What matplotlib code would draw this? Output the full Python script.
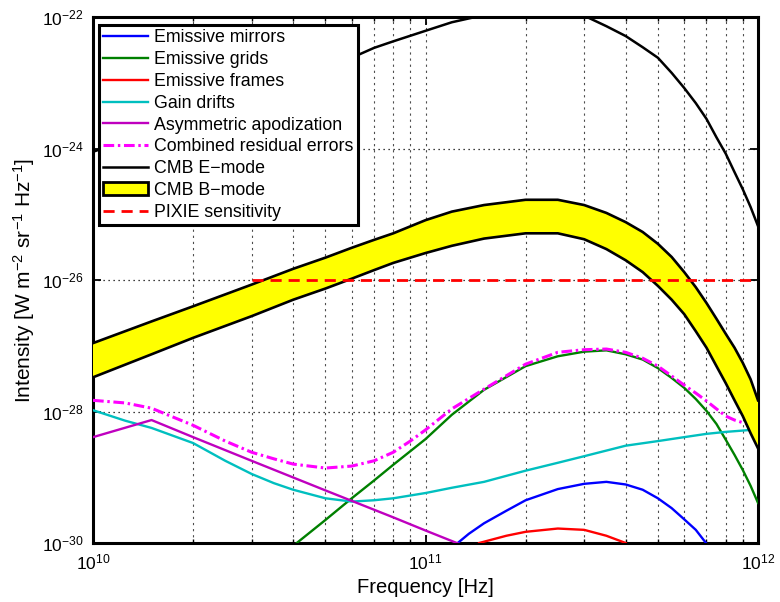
import numpy as np
import matplotlib.pyplot as plt
from matplotlib.patches import Patch
from matplotlib.ticker import LogLocator, NullLocator, NullFormatter

plt.rcParams['font.family'] = ['Liberation Sans', 'DejaVu Sans']
plt.rcParams['mathtext.default'] = 'regular'

# all intensities below are log10 of W m^-2 sr^-1 Hz^-1

# CMB polarization
freq_cmb = [1e10, 1.5e10, 2e10, 3e10, 4e10, 5e10, 6e10, 7e10, 8e10, 1e11, 1.2e11, 1.5e11,
            2e11, 2.5e11, 3e11, 3.5e11, 4e11, 4.5e11, 5e11, 5.5e11, 6e11, 6.5e11, 7e11,
            7.5e11, 8e11, 8.5e11, 9e11, 9.5e11, 1e12]
bmode_hi = [-26.96, -26.63, -26.40, -26.07, -25.83, -25.66, -25.51, -25.39, -25.29, -25.09,
            -24.96, -24.86, -24.78, -24.78, -24.86, -24.98, -25.12, -25.27, -25.45, -25.65,
            -25.88, -26.11, -26.35, -26.59, -26.82, -27.03, -27.26, -27.51, -27.83]
bmode_lo = [-27.48, -27.13, -26.88, -26.55, -26.30, -26.13, -25.98, -25.85, -25.74, -25.59,
            -25.48, -25.37, -25.29, -25.29, -25.38, -25.53, -25.70, -25.88, -26.09, -26.30,
            -26.52, -26.78, -27.03, -27.31, -27.57, -27.83, -28.07, -28.33, -28.56]
emode = [-24.05, -23.74, -23.51, -23.18, -22.94, -22.77, -22.62, -22.47, -22.37, -22.21,
         -22.08, -21.97, -21.89, -21.88, -21.98, -22.14, -22.29, -22.46, -22.62, -22.85,
         -23.08, -23.31, -23.55, -23.83, -24.08, -24.36, -24.62, -24.89, -25.18]

# systematic error terms
freq_mirror = [1.25e11, 1.35e11, 1.5e11, 1.75e11, 2e11, 2.5e11, 3e11, 3.5e11, 4e11, 4.5e11,
               5e11, 5.5e11, 6e11, 6.5e11, 7e11]
mirror = [-30.00, -29.86, -29.70, -29.51, -29.35, -29.18, -29.10, -29.07, -29.11, -29.19,
          -29.32, -29.47, -29.64, -29.80, -30.01]

freq_grid = [4.1e10, 5e10, 6e10, 7e10, 8e10, 1e11, 1.2e11, 1.5e11, 2e11, 2.5e11, 3e11,
             3.5e11, 4e11, 4.5e11, 5e11, 5.5e11, 6e11, 6.5e11, 7e11, 7.5e11, 8e11, 8.5e11,
             9e11, 9.5e11, 1e12]
grid = [-30.00, -29.65, -29.32, -29.05, -28.81, -28.42, -28.05, -27.67, -27.31, -27.16,
        -27.09, -27.07, -27.13, -27.21, -27.34, -27.49, -27.64, -27.81, -27.99, -28.19,
        -28.43, -28.66, -28.89, -29.13, -29.39]

freq_frame = [1.45e11, 1.75e11, 2e11, 2.5e11, 3e11, 3.5e11, 4e11]
frame = [-30.00, -29.89, -29.83, -29.78, -29.80, -29.89, -30.00]

freq_drift = [1e10, 1.25e10, 1.5e10, 2e10, 2.5e10, 3e10, 3.5e10, 4e10, 5e10, 6e10, 7e10,
              8e10, 1e11, 1.2e11, 1.5e11, 2e11, 2.5e11, 3e11, 4e11, 5e11, 6e11, 7e11,
              8e11, 9e11, 1e12]
drift = [-27.98, -28.14, -28.25, -28.48, -28.75, -28.95, -29.09, -29.19, -29.32, -29.37,
         -29.35, -29.32, -29.24, -29.16, -29.07, -28.90, -28.78, -28.68, -28.52, -28.45,
         -28.39, -28.34, -28.31, -28.29, -28.27]

freq_apod = [1e10, 1.5e10, 2e10, 3e10, 5e10, 8e10, 1e11, 1.3e11]
apod = [-28.39, -28.13, -28.39, -28.75, -29.20, -29.61, -29.81, -30.04]

freq_total = [1e10, 1.25e10, 1.5e10, 2e10, 2.5e10, 3e10, 3.5e10, 4e10, 5e10, 6e10, 7e10,
              8e10, 9e10, 1e11, 1.2e11, 1.5e11, 2e11, 2.5e11, 3e11, 3.5e11, 4e11, 4.5e11,
              5e11, 5.5e11, 6e11, 6.5e11, 7e11, 7.5e11, 8e11, 8.5e11, 9e11, 9.5e11, 1e12]
total = [-27.83, -27.87, -27.95, -28.21, -28.45, -28.62, -28.72, -28.80, -28.86, -28.83,
         -28.75, -28.62, -28.45, -28.28, -27.96, -27.66, -27.28, -27.10, -27.06, -27.05,
         -27.10, -27.19, -27.31, -27.46, -27.60, -27.72, -27.84, -27.96, -28.07, -28.13,
         -28.17, -28.20, -28.22]

freq_pixie = [3e10, 1e12]
pixie = [-26.0, -26.0]


def lin(a):
    return np.power(10.0, a)


fig = plt.figure(figsize=(7.8, 6.02), dpi=100)
ax = fig.add_axes([93 / 780, 59 / 602, 665 / 780, 526 / 602])
ax.set_xscale('log')
ax.set_yscale('log')

lw = 1.7
ax.plot(freq_mirror, lin(mirror), color='#0000ff', lw=lw, label='Emissive mirrors', zorder=3)
ax.plot(freq_grid, lin(grid), color='#008000', lw=lw, label='Emissive grids', zorder=3)
ax.plot(freq_frame, lin(frame), color='#ff0000', lw=lw, label='Emissive frames', zorder=3)
ax.plot(freq_drift, lin(drift), color='#00bfbf', lw=lw, label='Gain drifts', zorder=3)
ax.plot(freq_apod, lin(apod), color='#bf00bf', lw=lw,
        label='Asymmetric apodization', zorder=3)
ax.plot(freq_total, lin(total), color='#ff00ff', lw=2.2, ls=(0, (3.5, 1.2, 0.8, 1.2)),
        label='Combined residual errors', zorder=3)
ax.plot(freq_cmb, lin(emode), color='k', lw=1.8, label=u'CMB E\u2212mode', zorder=4)

# B-mode band sits on top of the error curves
ax.fill_between(freq_cmb, lin(bmode_lo), lin(bmode_hi), facecolor='#ffff00',
                edgecolor='none', zorder=4)
ax.plot(freq_cmb, lin(bmode_hi), color='k', lw=1.9, zorder=5)
ax.plot(freq_cmb, lin(bmode_lo), color='k', lw=1.9, zorder=5)
ax.plot(freq_pixie, lin(pixie), color='#ff0000', lw=2, ls=(0, (4, 2.5)),
        label='PIXIE sensitivity', zorder=6)

ax.set_xlim(1e10, 1e12)
ax.set_ylim(1e-30, 1e-22)
ax.set_xticks([1e10, 1e11, 1e12])
ax.xaxis.set_minor_locator(LogLocator(base=10, subs=np.arange(2, 10)))
ax.xaxis.set_minor_formatter(NullFormatter())
ax.set_yticks([1e-30, 1e-28, 1e-26, 1e-24, 1e-22])
ax.yaxis.set_minor_locator(NullLocator())

ax.grid(True, which='both', axis='x', ls=(0, (2, 3.5)), color='0.3', lw=0.8)
ax.grid(True, which='major', axis='y', ls=(0, (1, 3)), color='k', lw=0.9)
ax.set_axisbelow(True)

ax.tick_params(which='both', direction='in', top=True, right=True, labelsize=12.5)
ax.tick_params(which='major', length=6, width=1.3, pad=7)
ax.tick_params(which='minor', length=3, width=1.0)
for sp in ax.spines.values():
    sp.set_linewidth(2.2)

ax.set_xlabel('Frequency [Hz]', fontsize=14.5, labelpad=4)
ax.set_ylabel('Intensity [W m$^{-2}$ sr$^{-1}$ Hz$^{-1}$]', fontsize=15, labelpad=3)

handles, labels = ax.get_legend_handles_labels()
bpatch = Patch(facecolor='#ffff00', edgecolor='k', lw=2)
handles.insert(7, bpatch)
labels.insert(7, u'CMB B\u2212mode')
leg = ax.legend(handles, labels, loc='upper left', bbox_to_anchor=(0.009, 0.985),
                borderaxespad=0, fontsize=12.8, fancybox=False, framealpha=1,
                edgecolor='k', handlelength=2.5, handletextpad=0.35,
                labelspacing=0.27, borderpad=0.25)
leg.get_frame().set_linewidth(2.2)
leg.set_zorder(10)

fig.savefig('out.png', dpi=100, facecolor='white')
